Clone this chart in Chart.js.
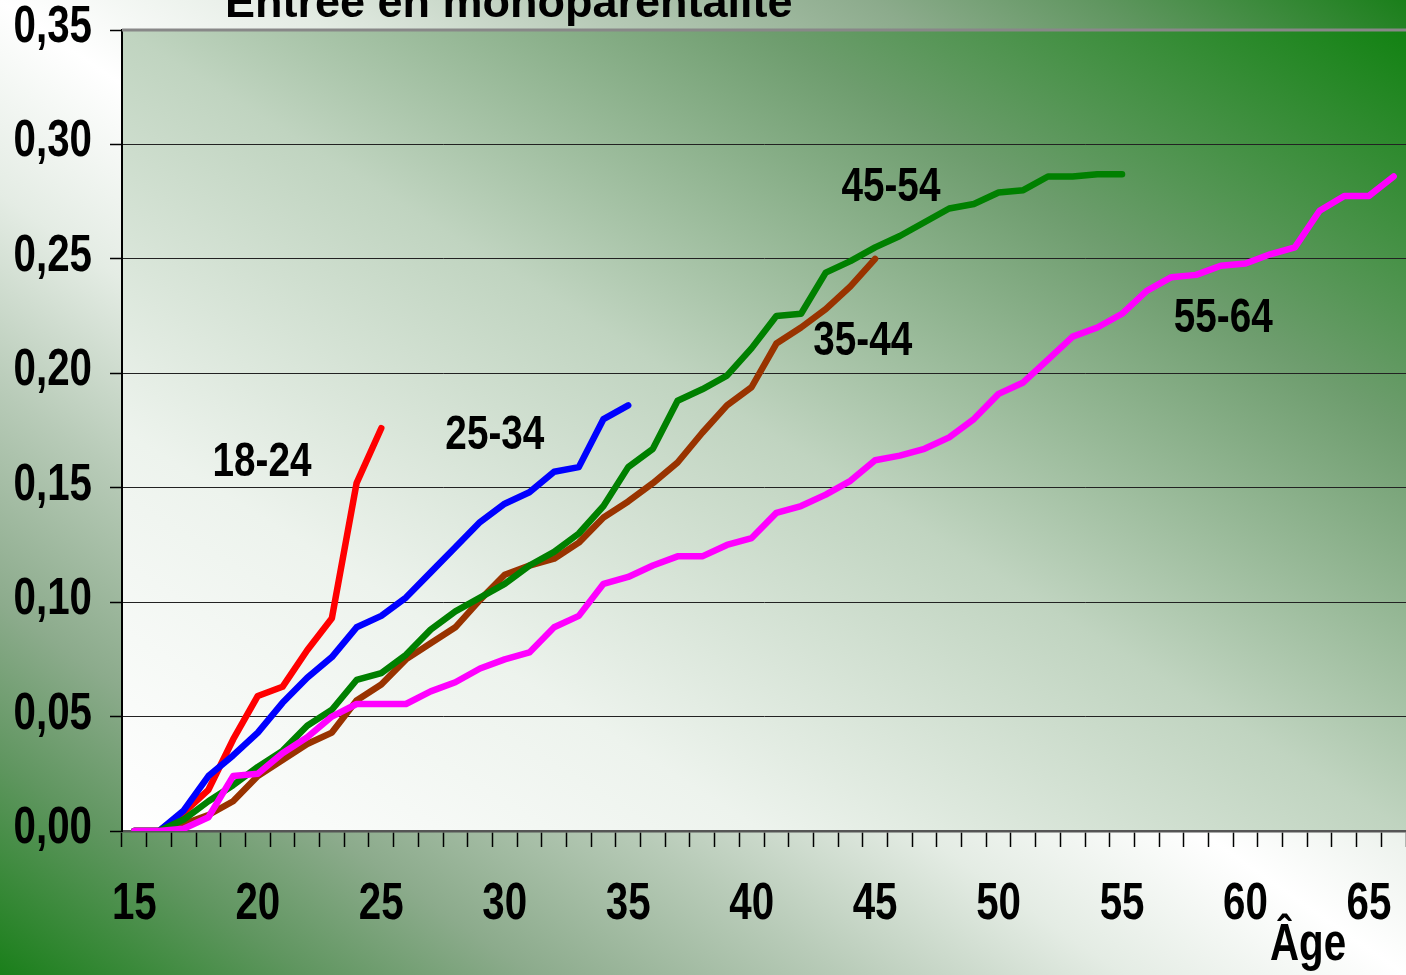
<!DOCTYPE html>
<html>
<head>
<meta charset="utf-8">
<script src="https://cdn.jsdelivr.net/npm/chart.js@4.4.1/dist/chart.umd.min.js"></script>
<style>
  html, body { margin: 0; padding: 0; background: #fff; }
  #wrap { width: 1406px; height: 975px; position: relative; }
</style>
</head>
<body>
<div id="wrap"><canvas id="chart"></canvas></div>
<script>
// categories: age 15 .. 66
const ages = [];
for (let a = 15; a <= 66; a++) ages.push(a);

// cumulative share entering single parenthood, by age group at survey
const g18_24 = [0, 0, 0.008, 0.018, 0.040, 0.059, 0.063, 0.079, 0.093, 0.152, 0.176];
const g25_34 = [0, 0, 0.009, 0.024, 0.033, 0.043, 0.056, 0.067, 0.076, 0.089, 0.094,
  0.102, 0.113, 0.124, 0.135, 0.143, 0.148, 0.157, 0.159, 0.180, 0.186];
const g35_44 = [0, 0, 0.003, 0.007, 0.013, 0.024, 0.031, 0.038, 0.043, 0.057, 0.064,
  0.075, 0.082, 0.089, 0.101, 0.112, 0.116, 0.119, 0.126, 0.137, 0.144,
  0.152, 0.161, 0.174, 0.186, 0.194, 0.213, 0.220, 0.228, 0.238, 0.250];
const g45_54 = [0, 0, 0.005, 0.013, 0.020, 0.028, 0.035, 0.046, 0.053, 0.066, 0.069,
  0.077, 0.088, 0.096, 0.102, 0.108, 0.116, 0.122, 0.130, 0.142, 0.159,
  0.167, 0.188, 0.193, 0.199, 0.211, 0.225, 0.226, 0.244, 0.249, 0.255,
  0.260, 0.266, 0.272, 0.274, 0.279, 0.280, 0.286, 0.286, 0.287, 0.287];
const g55_64 = [0, 0, 0.001, 0.006, 0.024, 0.025, 0.034, 0.041, 0.050, 0.0555, 0.0555,
  0.0555, 0.061, 0.065, 0.071, 0.075, 0.078, 0.089, 0.094, 0.108, 0.111,
  0.116, 0.120, 0.120, 0.125, 0.128, 0.139, 0.142, 0.147, 0.153, 0.162,
  0.164, 0.167, 0.172, 0.180, 0.191, 0.196, 0.206, 0.216, 0.220, 0.226,
  0.236, 0.242, 0.243, 0.247, 0.248, 0.252, 0.255, 0.271, 0.2775, 0.2775, 0.286];

const yTicks = [0, 0.05, 0.10, 0.15, 0.20, 0.25, 0.30, 0.35];

// series labels, placed in data units (age, value)
const seriesLabels = ['18-24', '25-34', '35-44', '45-54', '55-64'];
const labelAges = [20.17, 29.6, 44.5, 45.64, 59.1];
const labelValues = [0.161, 0.173, 0.2137, 0.2814, 0.224];

const FONT = "'Liberation Sans', Arial, sans-serif";

// Arial Narrow look-alike: Arial bold squeezed horizontally
function narrowText(ctx, text, x, y, size, align) {
    ctx.save();
    ctx.font = 'bold ' + size + 'px ' + FONT;
    ctx.textAlign = align;
    ctx.textBaseline = 'middle';
    ctx.fillStyle = '#000';
    ctx.translate(x, y);
    ctx.scale(0.79, 1);
    ctx.fillText(text, 0, 0);
    ctx.restore();
}

function diagGradient(ctx, x, y, w, h, stops) {
    // gradient whose iso-lines run along the top-left / bottom-right diagonal
    ctx.save();
    ctx.translate(x, y);
    ctx.scale(w, h);
    const g = ctx.createLinearGradient(0, 1, 1, 0);
    stops.forEach(s => g.addColorStop(s[0], s[1]));
    ctx.fillStyle = g;
    ctx.fillRect(0, 0, 1, 1);
    ctx.restore();
}

const backdrop = {
    id: 'backdrop',
    beforeDraw(chart) {
        const ctx = chart.ctx;
        const a = chart.chartArea;
        diagGradient(ctx, 0, 0, chart.width, chart.height, [
            [0, '#1a7f1a'], [0.11, '#609660'], [0.19, '#8cab8c'], [0.3, '#b8cbb8'],
            [0.4, '#e4ece4'], [0.5, '#ffffff'], [0.6, '#e4ece4'], [0.7, '#b8cbb8'],
            [0.81, '#8cab8c'], [0.89, '#609660'], [1, '#1a7f1a']
        ]);
        diagGradient(ctx, a.left, a.top, a.right - a.left, a.bottom - a.top, [
            [0, '#ffffff'], [0.25, '#edf3ed'], [0.5, '#c0d4c0'], [0.75, '#6e9d6e'], [1, '#128212']
        ]);
    },
    afterDraw(chart) {
        const ctx = chart.ctx;
        const a = chart.chartArea;
        const xs = chart.scales.x, ys = chart.scales.y;
        ctx.save();
        ctx.strokeStyle = '#888';
        ctx.lineWidth = 3;
        ctx.beginPath();
        ctx.moveTo(a.left, a.top);
        ctx.lineTo(a.right, a.top);
        ctx.stroke();
        // title, mostly cut off at the top of the picture
        ctx.fillStyle = '#000';
        ctx.font = 'bold 45px ' + FONT;
        ctx.textAlign = 'left';
        ctx.textBaseline = 'alphabetic';
        ctx.fillText('Entrée en monoparentalité', 225, 17);
        ctx.restore();

        // tick labels, from the library's own ticks
        ys.ticks.forEach(t => {
            narrowText(ctx, t.value.toFixed(2).replace('.', ','), 92, ys.getPixelForValue(t.value) - 2, 51, 'right');
        });
        xs.ticks.forEach((t, i) => {
            const age = ages[t.value];
            if (age % 5 === 0) narrowText(ctx, String(age), xs.getPixelForTick(i), 905, 51, 'center');
        });
        narrowText(ctx, 'Âge', 1308, 946, 51, 'center');

        // series labels
        seriesLabels.forEach((t, i) => {
            const px = xs.getPixelForValue(labelAges[i] - ages[0]);
            const py = ys.getPixelForValue(labelValues[i]);
            narrowText(ctx, t, px, py, 49, 'center');
        });
    }
};

function line(label, data, color, order) {
    return {
        label: label,
        data: data,
        borderColor: color,
        backgroundColor: color,
        borderWidth: 6.5,
        pointRadius: 0,
        tension: 0,
        borderCapStyle: 'round',
        borderJoinStyle: 'round',
        order: order
    };
}

new Chart(document.getElementById('chart').getContext('2d'), {
    type: 'line',
    data: {
        labels: ages,
        datasets: [
            line('18-24', g18_24, '#ff0000', 4),
            line('25-34', g25_34, '#0000ff', 3),
            line('35-44', g35_44, '#993300', 2),
            line('45-54', g45_54, '#008000', 1),
            line('55-64', g55_64, '#ff00ff', 0)
        ]
    },
    options: {
        responsive: true,
        maintainAspectRatio: false,
        animation: false,
        layout: { padding: { top: 30, right: 0, left: 0, bottom: 0 } },
        plugins: {
            legend: { display: false },
            tooltip: { enabled: false }
        },
        scales: {
            x: {
                offset: true,
                afterFit: s => { s.height = 144; },
                border: { color: '#555', width: 2.5 },
                grid: {
                    offset: true,
                    drawOnChartArea: false,
                    drawTicks: true,
                    tickLength: 16,
                    tickColor: '#000',
                    tickWidth: 1.5
                },
                ticks: { display: false, autoSkip: false, maxRotation: 0 }
            },
            y: {
                min: 0,
                max: 0.35,
                afterFit: s => { s.width = 122; },
                afterBuildTicks: s => { s.ticks = yTicks.map(v => ({ value: v })); },
                border: { color: '#000', width: 2 },
                grid: {
                    color: '#222',
                    lineWidth: 1,
                    drawTicks: true,
                    tickLength: 12,
                    tickColor: '#000',
                    tickWidth: 1.5
                },
                ticks: { display: false }
            }
        }
    },
    plugins: [backdrop]
});
</script>
</body>
</html>
